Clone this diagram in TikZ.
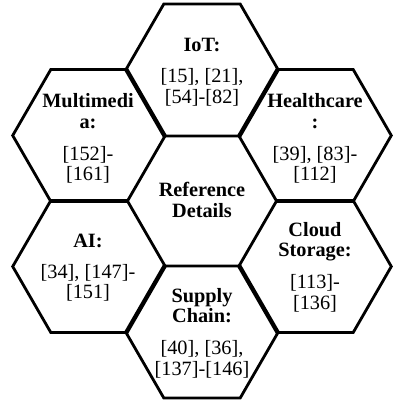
\documentclass[tikz,border=0pt]{standalone}
\usepackage{fontspec}
\setmainfont{Liberation Serif}
\begin{document}
\begin{tikzpicture}[x=1pt,y=-1pt,
  cell/.style={line width=2.8pt,line join=miter},
  celltext/.style={align=center,inner sep=0pt,
    font=\fontsize{20.3}{20.3}\selectfont}]
\useasboundingbox (0,0) rectangle (392,401);
% honeycomb centres (flat-topped cells, apothem 65.5)
\coordinate (cRef) at (202,201);
\coordinate (cIoT) at (202,70);
\coordinate (cMM)  at (89,135.5);
\coordinate (cHC)  at (315,135.5);
\coordinate (cAI)  at (89,266.5);
\coordinate (cCS)  at (315,266.5);
\coordinate (cSC)  at (202,332);
% outer cells; the middle cell is enclosed by their edges
\foreach \c in {cIoT,cMM,cHC,cAI,cCS,cSC}
  \draw[cell] (\c) +(0:76.3) -- +(60:76.3) -- +(120:76.3) -- +(180:76.3)
    -- +(240:76.3) -- +(300:76.3) -- cycle;
% cell texts
\node[celltext] (tIoT) at (202,72)
  {\textbf{IoT:}\\[11pt]{[15], [21],}\\{[54]-[82]}};
\node[celltext] (tMM) at (88,138.5)
  {\textbf{Multimedi}\\\textbf{a:}\\[12pt]{[152]-}\\{[161]}};
\node[celltext] (tHC) at (315,138.5)
  {\textbf{Healthcare}\\\textbf{:}\\[12pt]{[39], [83]-}\\{[112]}};
\node[celltext] (tRef) at (202,200)
  {\textbf{Reference}\\\textbf{Details}};
\node[celltext] (tAI) at (88,267.5)
  {\textbf{AI:}\\[11pt]{[34], [147]-}\\{[151]}};
\node[celltext] (tCS) at (315,267)
  {\textbf{Cloud}\\\textbf{Storage:}\\[12pt]{[113]-}\\{[136]}};
\node[celltext] (tSC) at (202,333)
  {\textbf{Supply}\\\textbf{Chain:}\\[12pt]{[40], [36],}\\{[137]-[146]}};
\end{tikzpicture}
\end{document}
